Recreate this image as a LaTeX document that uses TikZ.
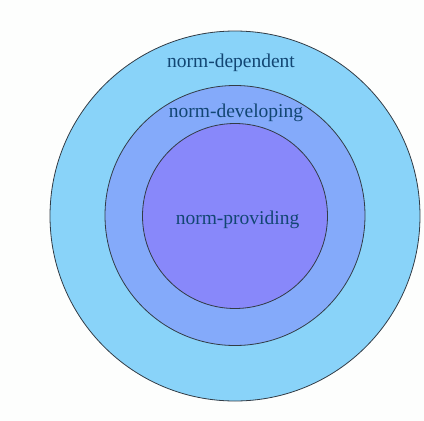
\documentclass[tikz,border=0pt]{standalone}
\usepackage{fontspec}
\setmainfont{Liberation Serif}
\definecolor{outerc}{RGB}{137,211,249}
\definecolor{midc}{RGB}{132,170,250}
\definecolor{innerc}{RGB}{136,136,250}
\definecolor{txtc}{RGB}{18,70,115}
\definecolor{edgec}{RGB}{50,60,70}
\definecolor{bgc}{RGB}{253,254,253}
\begin{document}
\begin{tikzpicture}[x=1pt,y=-1pt,
  ring/.style={circle,draw=edgec,line width=0.8pt,inner sep=0pt},
  lbl/.style={text=txtc,font=\fontsize{19.5}{22}\selectfont,inner sep=0pt}]
\fill[bgc] (0,0) rectangle (424,421);
\useasboundingbox (0,0) rectangle (424,421);
\node[ring,fill=outerc,minimum size=370pt] (outer) at (235,216) {};
\node[ring,fill=midc,minimum size=260pt] (middle) at (235,215.5) {};
\node[ring,fill=innerc,minimum size=185pt] (inner) at (235,216) {};
\node[lbl] (tdep) at (231,63) {norm-dependent};
\node[lbl] (tdev) at (236,113) {norm-developing};
\node[lbl] (tprov) at (237.5,220) {norm-providing};
\end{tikzpicture}
\end{document}
